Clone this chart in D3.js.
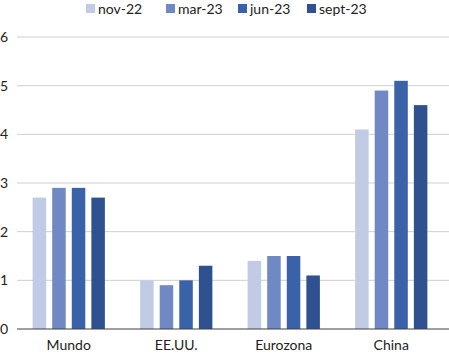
<!DOCTYPE html>
<html><head><meta charset="utf-8">
<script src="https://cdn.jsdelivr.net/npm/d3@7"></script>
<style>body{margin:0;background:#fff}svg{display:block}text{font-family:Lato,"Open Sans",sans-serif;fill:#222}</style>
</head><body><svg id="c" width="449" height="354"></svg>
<script>
const categories = ["Mundo","EE.UU.","Eurozona","China"];
const seriesNames = ["nov-22","mar-23","jun-23","sept-23"];
const nov22 = [2.7, 1.0, 1.4, 4.1];
const mar23 = [2.9, 0.9, 1.5, 4.9];
const jun23 = [2.9, 1.0, 1.5, 5.1];
const sept23 = [2.7, 1.3, 1.1, 4.6];
const yTicks = [0,1,2,3,4,5,6];
const colors = ["#c2cbe5","#7089c5","#3a62a8","#2f5190"];
const series = [nov22, mar23, jun23, sept23];

const svg = d3.select("#c");
const x0 = d3.scaleBand().domain(categories).range([15,445]).padding(0);
const x1 = d3.scaleBand().domain(seriesNames).range([0,x0.bandwidth()]).paddingInner(0.31).paddingOuter(0.9);
const y = d3.scaleLinear().domain([0,6]).range([329,37]);

svg.append("g").selectAll("line").data(yTicks.filter(d=>d>0)).join("line")
  .attr("x1",17).attr("x2",449).attr("y1",d=>y(d)).attr("y2",d=>y(d))
  .attr("stroke","#cfcfcf").attr("stroke-width",1);

svg.append("g").selectAll("text").data(yTicks).join("text")
  .attr("x",8).attr("y",d=>y(d)+5).attr("text-anchor","end")
  .attr("font-size",14).text(d=>d);

series.forEach((vals,si)=>{
  svg.append("g").selectAll("rect").data(vals).join("rect")
    .attr("x",(d,i)=>x0(categories[i])+x1(seriesNames[si]))
    .attr("width",x1.bandwidth())
    .attr("y",d=>y(d)).attr("height",d=>y(0)-y(d))
    .attr("fill",colors[si]);
});

svg.append("line").attr("x1",17).attr("x2",449).attr("y1",y(0)).attr("y2",y(0))
  .attr("stroke","#404040").attr("stroke-width",1.2);

svg.append("g").selectAll("text").data(categories).join("text")
  .attr("x",d=>x0(d)+x0.bandwidth()/2).attr("y",350).attr("text-anchor","middle")
  .attr("font-size",14).text(d=>d);

const legX = [86,166,238,307];
const leg = svg.append("g");
seriesNames.forEach((n,i)=>{
  leg.append("rect").attr("x",legX[i]).attr("y",4).attr("width",9).attr("height",9).attr("fill",colors[i]);
  leg.append("text").attr("x",legX[i]+12).attr("y",14).attr("font-size",14).text(n);
});
</script></body></html>
